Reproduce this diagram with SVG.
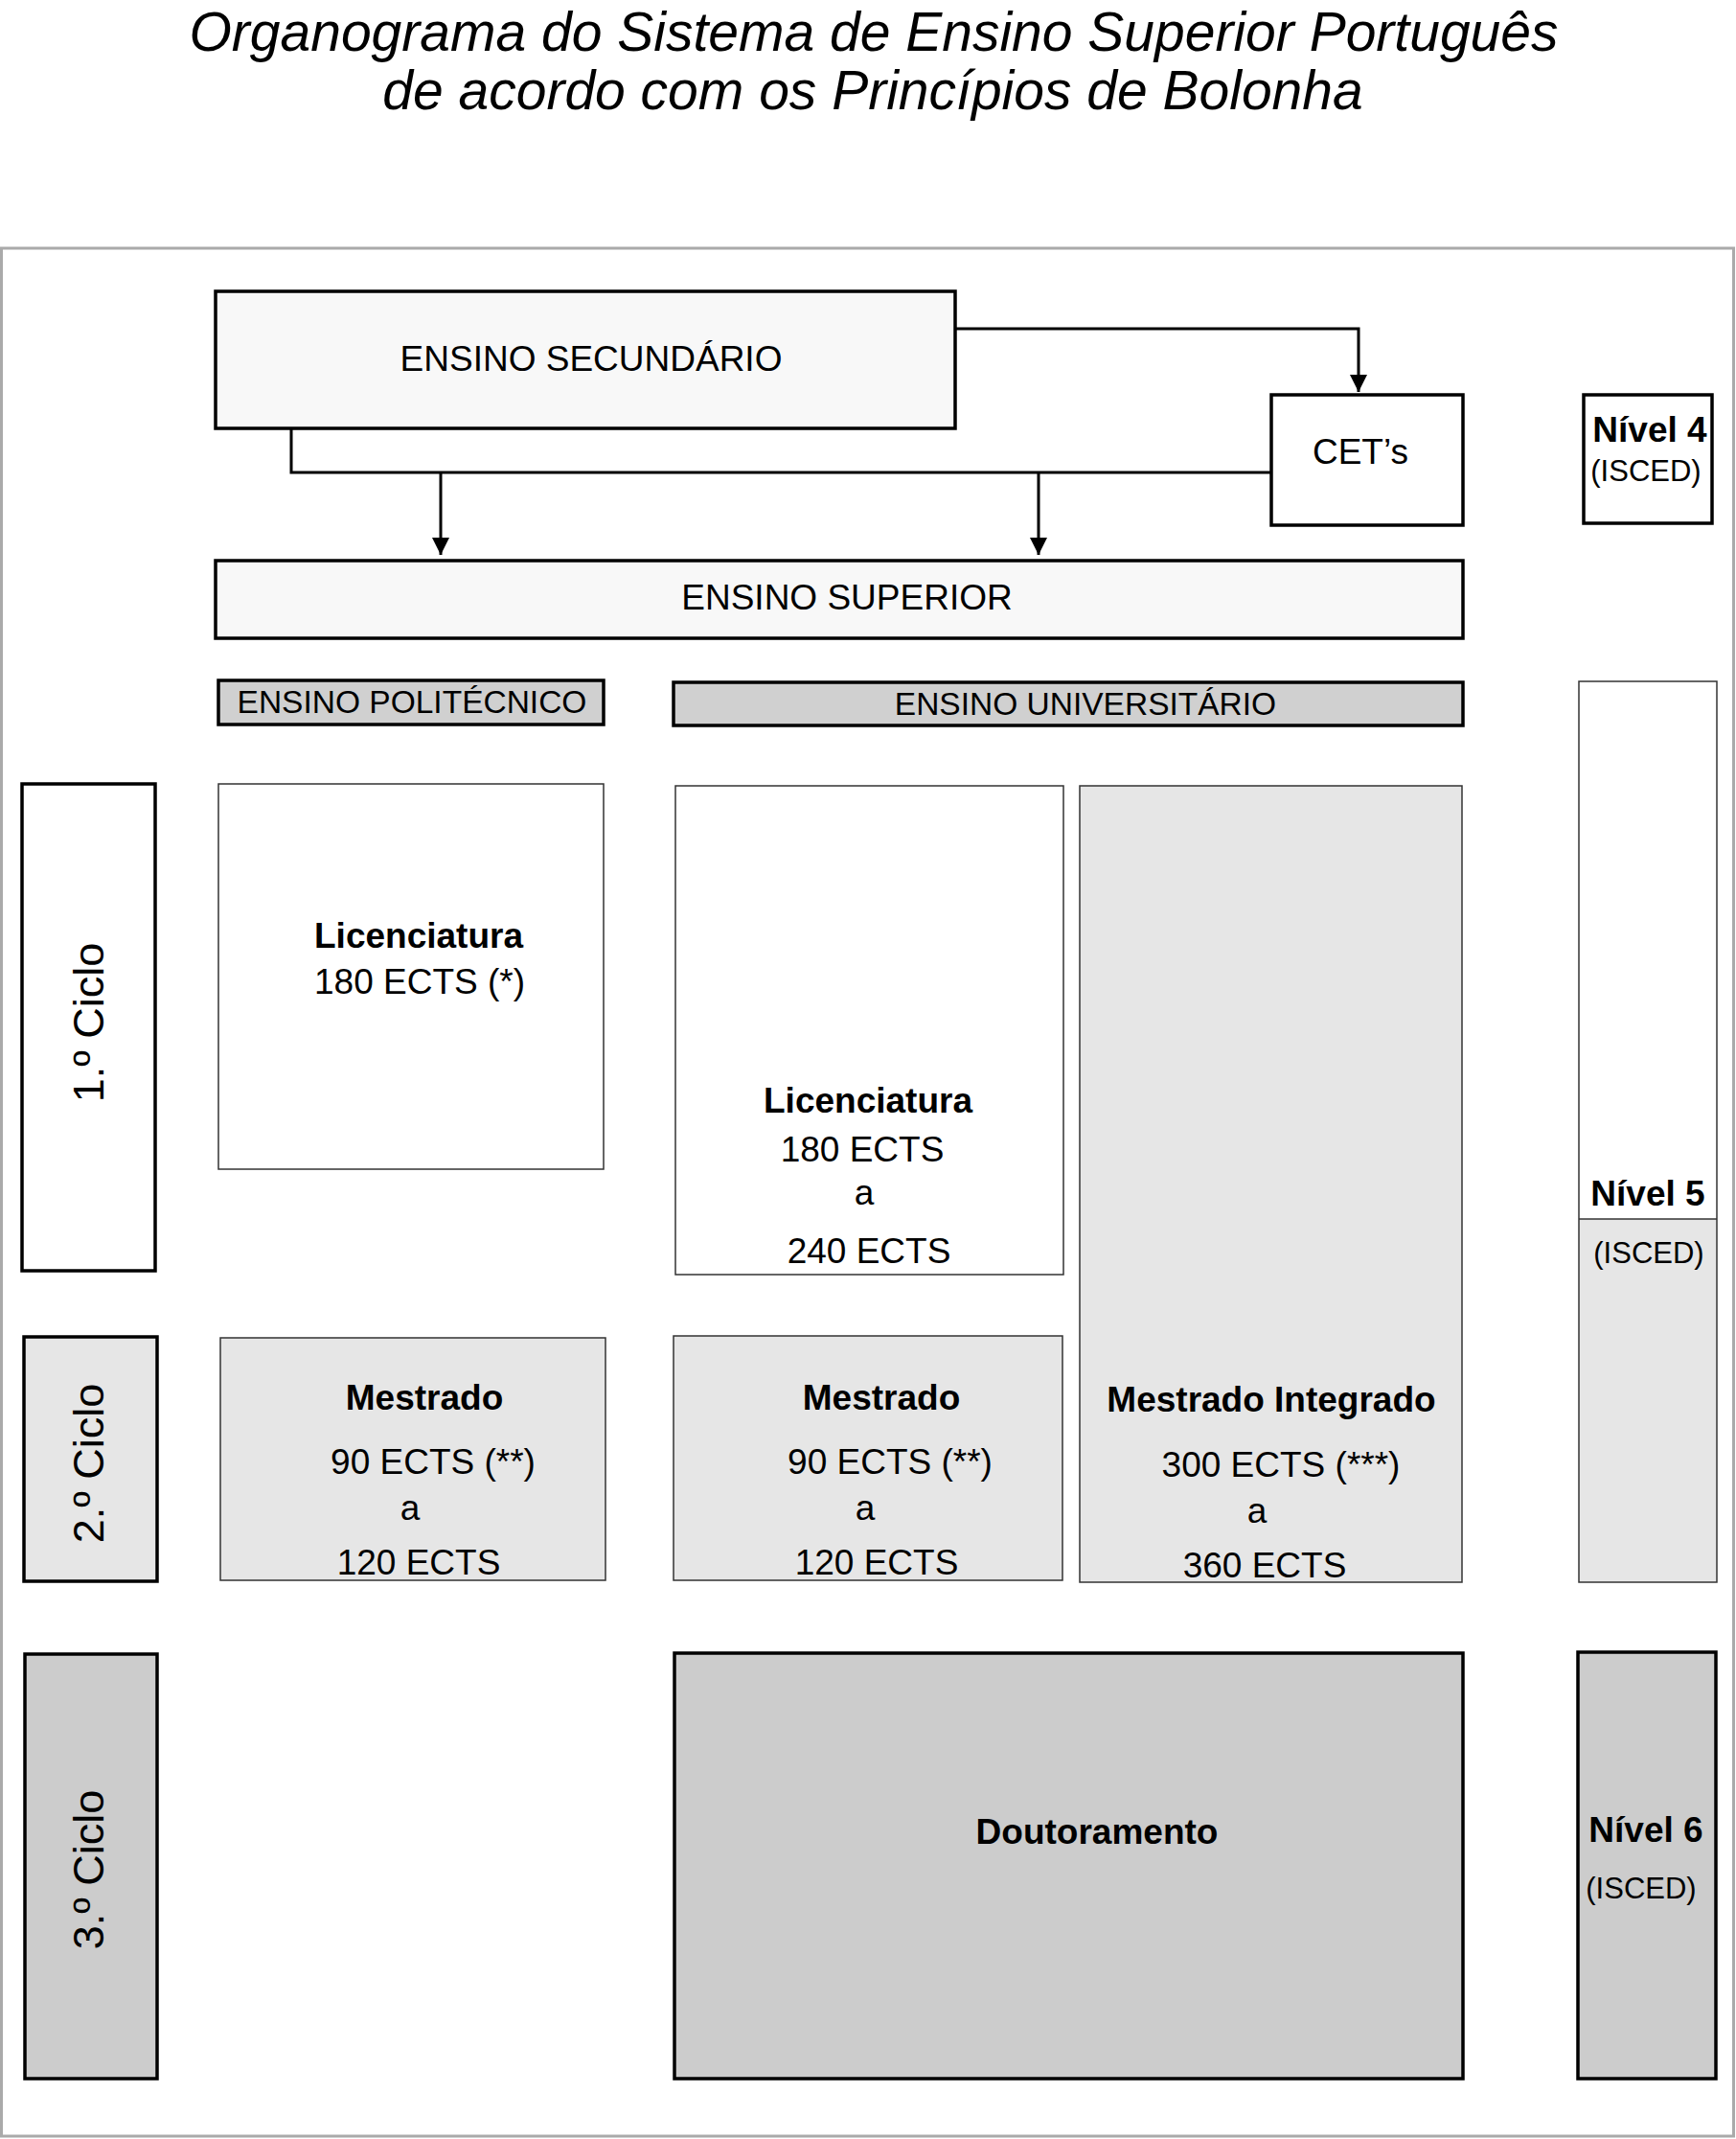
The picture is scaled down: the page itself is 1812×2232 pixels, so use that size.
<svg xmlns="http://www.w3.org/2000/svg" width="1812" height="2232" viewBox="0 0 1812 2232">
<style>
text{font-family:"Liberation Sans",Arial,sans-serif;fill:#000;text-anchor:middle}
.t{font-style:italic;font-size:57px}
.r{font-size:37px}
.b{font-size:37px;font-weight:bold}
.s{font-size:33.5px}
.i{font-size:31px}
.c{font-size:45px}
.thick{stroke:#000;stroke-width:3.5}
.thin{stroke:#333;stroke-width:1.5}
.conn{fill:none;stroke:#000;stroke-width:3}
</style>
<defs>
<marker id="ah" markerUnits="userSpaceOnUse" markerWidth="18" markerHeight="24" refX="18" refY="9" orient="auto">
<path d="M0,0 L18,9 L0,18 Z" fill="#000"/>
</marker>
</defs>
<rect width="1812" height="2232" fill="#fff"/>
<text class="t" x="912" y="53">Organograma do Sistema de Ensino Superior Português</text>
<text class="t" x="911" y="114">de acordo com os Princípios de Bolonha</text>
<rect x="1.5" y="259" width="1808" height="1970" fill="none" stroke="#aaa" stroke-width="3"/>

<g id="connectors">
<path class="conn" d="M997,343 H1418 V409" marker-end="url(#ah)"/>
<path class="conn" d="M304,448 V493 H1327"/>
<path class="conn" d="M460,493 V579" marker-end="url(#ah)"/>
<path class="conn" d="M1084,493 V579" marker-end="url(#ah)"/>
</g>

<g id="ensino-secundario">
<rect class="thick" x="225" y="304" width="772" height="143" fill="#f8f8f8"/>
<text class="r" x="617" y="387">ENSINO SECUNDÁRIO</text>
</g>
<g id="cets">
<rect class="thick" x="1327" y="412" width="200" height="136" fill="#fff"/>
<text class="r" x="1420" y="484">CET’s</text>
</g>
<g id="nivel4">
<rect class="thick" x="1653" y="412" width="134" height="134" fill="#fff"/>
<text class="b" x="1722" y="461">Nível 4</text>
<text class="i" x="1718" y="502">(ISCED)</text>
</g>
<g id="ensino-superior">
<rect class="thick" x="225" y="585" width="1302" height="81" fill="#f8f8f8"/>
<text class="r" x="884" y="636">ENSINO SUPERIOR</text>
</g>
<g id="ensino-politecnico">
<rect class="thick" x="228" y="710" width="402" height="46" fill="#d0d0d0"/>
<text class="s" x="430" y="744">ENSINO POLITÉCNICO</text>
</g>
<g id="ensino-universitario">
<rect class="thick" x="703" y="712" width="824" height="45" fill="#d0d0d0"/>
<text class="s" x="1133" y="746">ENSINO UNIVERSITÁRIO</text>
</g>

<g id="ciclo1">
<rect class="thick" x="23" y="818" width="139" height="508" fill="#fff"/>
<text class="c" transform="translate(108,1067) rotate(-90)">1.º Ciclo</text>
</g>
<g id="ciclo2">
<rect class="thick" x="25" y="1395" width="139" height="255" fill="#e6e6e6"/>
<text class="c" transform="translate(108,1527) rotate(-90)">2.º Ciclo</text>
</g>
<g id="ciclo3">
<rect class="thick" x="26" y="1726" width="138" height="443" fill="#cccccc"/>
<text class="c" transform="translate(108,1951) rotate(-90)">3.º Ciclo</text>
</g>

<g id="licenciatura-poli">
<rect class="thin" x="228" y="818" width="402" height="402" fill="#fff"/>
<text class="b" x="437" y="989">Licenciatura</text>
<text class="r" x="438" y="1037">180 ECTS (*)</text>
</g>
<g id="licenciatura-univ">
<rect class="thin" x="705" y="820" width="405" height="510" fill="#fff"/>
<text class="b" x="906" y="1161">Licenciatura</text>
<text class="r" x="900" y="1212">180 ECTS</text>
<text class="r" x="902" y="1257">a</text>
<text class="r" x="907" y="1318">240 ECTS</text>
</g>
<g id="mestrado-integrado">
<rect class="thin" x="1127" y="820" width="399" height="831" fill="#e6e6e6"/>
<text class="b" x="1327" y="1473">Mestrado Integrado</text>
<text class="r" x="1337" y="1541">300 ECTS (***)</text>
<text class="r" x="1312" y="1589">a</text>
<text class="r" x="1320" y="1646">360 ECTS</text>
</g>
<g id="mestrado-poli">
<rect class="thin" x="230" y="1396" width="402" height="253" fill="#e6e6e6"/>
<text class="b" x="443" y="1471">Mestrado</text>
<text class="r" x="452" y="1538">90 ECTS (**)</text>
<text class="r" x="428" y="1586">a</text>
<text class="r" x="437" y="1643">120 ECTS</text>
</g>
<g id="mestrado-univ">
<rect class="thin" x="703" y="1394" width="406" height="255" fill="#e6e6e6"/>
<text class="b" x="920" y="1471">Mestrado</text>
<text class="r" x="929" y="1538">90 ECTS (**)</text>
<text class="r" x="903" y="1586">a</text>
<text class="r" x="915" y="1643">120 ECTS</text>
</g>
<g id="nivel5">
<rect x="1648" y="711" width="144" height="561" fill="#fff"/>
<rect x="1648" y="1272" width="144" height="379" fill="#e6e6e6"/>
<rect class="thin" x="1648" y="711" width="144" height="940" fill="none"/>
<line class="thin" x1="1648" y1="1272" x2="1792" y2="1272"/>
<text class="b" x="1720" y="1258">Nível 5</text>
<text class="i" x="1721" y="1318">(ISCED)</text>
</g>
<g id="doutoramento">
<rect class="thick" x="704" y="1725" width="823" height="444" fill="#cccccc"/>
<text class="b" x="1145" y="1924">Doutoramento</text>
</g>
<g id="nivel6">
<rect class="thick" x="1647" y="1724" width="144" height="445" fill="#cccccc"/>
<text class="b" x="1718" y="1922">Nível 6</text>
<text class="i" x="1713" y="1981">(ISCED)</text>
</g>
</svg>
